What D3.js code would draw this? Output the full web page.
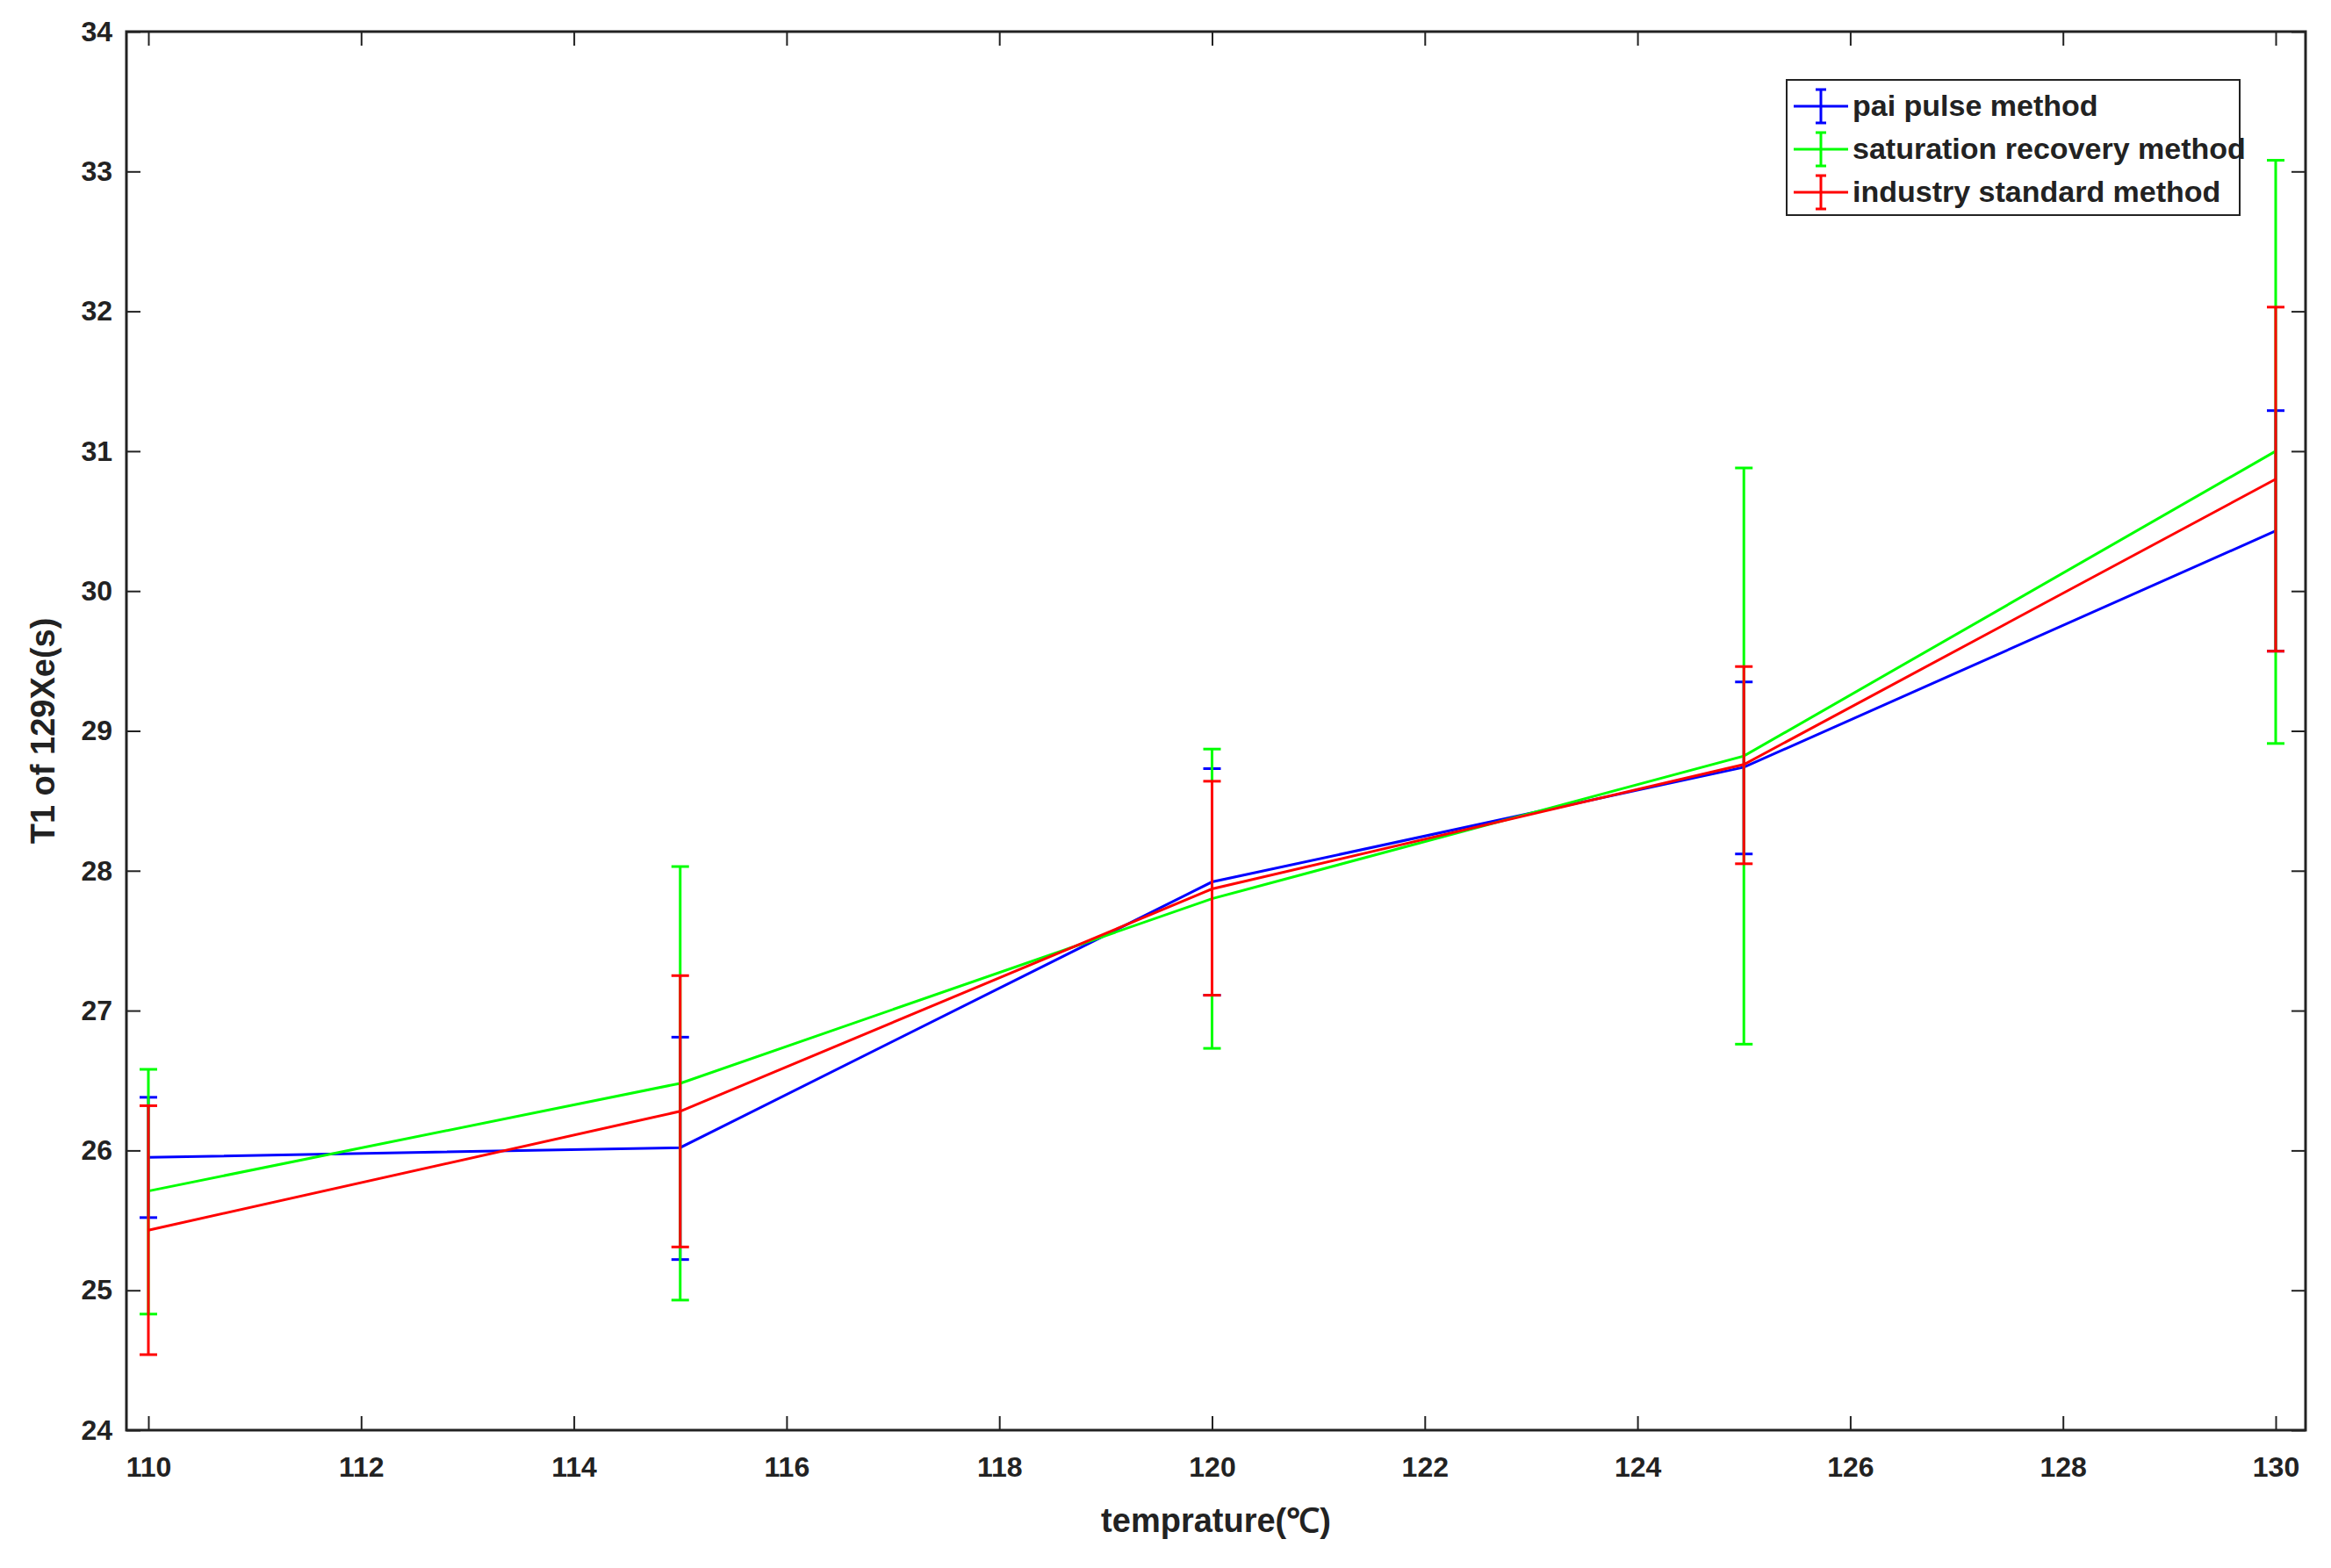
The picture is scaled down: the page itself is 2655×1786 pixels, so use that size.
<!DOCTYPE html>
<html><head><meta charset="utf-8">
<script src="https://cdn.jsdelivr.net/npm/d3@7"></script>
<style>body{margin:0;background:#fff}text{font-family:"Liberation Sans Narrow","Liberation Sans",Arial,sans-serif;font-weight:bold;fill:#222}</style>
</head><body><svg id="c" width="2655" height="1786"></svg>
<script>
const temps = [110, 115, 120, 125, 130];
const paiMean = [25.95, 26.02, 27.92, 28.74, 30.43];
const paiLo = [25.52, 25.22, 27.11, 28.12, 29.57];
const paiHi = [26.38, 26.81, 28.73, 29.35, 31.29];
const satMean = [25.71, 26.48, 27.8, 28.82, 31.0];
const satLo = [24.83, 24.93, 26.73, 26.76, 28.91];
const satHi = [26.58, 28.03, 28.87, 30.88, 33.08];
const indMean = [25.43, 26.28, 27.87, 28.76, 30.8];
const indLo = [24.54, 25.31, 27.11, 28.05, 29.57];
const indHi = [26.32, 27.25, 28.64, 29.46, 32.03];
const xTicks = d3.range(110, 131, 2);
const yTicks = d3.range(24, 35, 1);

const series = [
  {name: "pai pulse method", color: "#0000ff", m: paiMean, lo: paiLo, hi: paiHi},
  {name: "saturation recovery method", color: "#00ff00", m: satMean, lo: satLo, hi: satHi},
  {name: "industry standard method", color: "#ff0000", m: indMean, lo: indLo, hi: indHi}
];

const L = 144, R = 2626, T = 36, B = 1629;
const svg = d3.select("#c");
const x = d3.scaleLinear().domain([109.8, 130.6]).range([L, R]);
const y = d3.scaleLinear().domain([24, 34]).range([B, T]);
// place 110 and 130 exactly
x.domain([110 - (169 - L) / ((2592 - 169) / 20), 130 + (R - 2592) / ((2592 - 169) / 20)]);

const tk = 16;
const gx = svg.append("g").attr("transform", `translate(0,${B})`)
  .call(d3.axisBottom(x).tickValues(xTicks).tickSize(-tk).tickPadding(30).tickSizeOuter(0));
const gy = svg.append("g").attr("transform", `translate(${L},0)`)
  .call(d3.axisLeft(y).tickValues(yTicks).tickSize(-tk).tickPadding(16).tickSizeOuter(0));
svg.append("g").attr("transform", `translate(0,${T})`)
  .call(d3.axisTop(x).tickValues(xTicks).tickSize(-tk).tickFormat("").tickSizeOuter(0));
svg.append("g").attr("transform", `translate(${R},0)`)
  .call(d3.axisRight(y).tickValues(yTicks).tickSize(-tk).tickFormat("").tickSizeOuter(0));
svg.selectAll(".domain").remove();
svg.selectAll(".tick line").attr("stroke", "#222").attr("stroke-width", 2);
svg.selectAll(".tick text").attr("font-size", 32).attr("fill", "#222");
svg.append("rect").attr("x", L).attr("y", T).attr("width", R - L).attr("height", B - T)
  .attr("fill", "none").attr("stroke", "#222").attr("stroke-width", 3);

svg.append("text").attr("x", (L + R) / 2).attr("y", 1745).attr("text-anchor", "middle")
  .attr("font-size", 38).text("temprature(℃)");
svg.append("text").attr("transform", `translate(62,${(T + B) / 2}) rotate(-90)`)
  .attr("text-anchor", "middle").attr("font-size", 38).text("T1 of 129Xe(s)");

const line = d3.line().x(d => x(d[0])).y(d => y(d[1]));
const cap = 10;
series.forEach(s => {
  const g = svg.append("g");
  temps.forEach((t, i) => {
    const cx = x(t);
    g.append("line").attr("x1", cx).attr("x2", cx).attr("y1", y(s.lo[i])).attr("y2", y(s.hi[i]))
      .attr("stroke", s.color).attr("stroke-width", 3);
    [s.lo[i], s.hi[i]].forEach(v => g.append("line").attr("x1", cx - cap).attr("x2", cx + cap)
      .attr("y1", y(v)).attr("y2", y(v)).attr("stroke", s.color).attr("stroke-width", 3));
  });
  g.append("path").datum(temps.map((t, i) => [t, s.m[i]])).attr("d", line)
    .attr("fill", "none").attr("stroke", s.color).attr("stroke-width", 3);
});

// legend
const lx = 2035, ly = 91, lw = 516, lh = 154;
svg.append("rect").attr("x", lx).attr("y", ly).attr("width", lw).attr("height", lh)
  .attr("fill", "#fff").attr("stroke", "#222").attr("stroke-width", 2);
series.forEach((s, i) => {
  const yy = ly + 30 + i * 49;
  const g = svg.append("g");
  g.append("line").attr("x1", lx + 8).attr("x2", lx + 70).attr("y1", yy).attr("y2", yy)
    .attr("stroke", s.color).attr("stroke-width", 3);
  g.append("line").attr("x1", lx + 39).attr("x2", lx + 39).attr("y1", yy - 19).attr("y2", yy + 19)
    .attr("stroke", s.color).attr("stroke-width", 3);
  [yy - 19, yy + 19].forEach(v => g.append("line").attr("x1", lx + 33).attr("x2", lx + 45)
    .attr("y1", v).attr("y2", v).attr("stroke", s.color).attr("stroke-width", 3));
  g.append("text").attr("x", lx + 75).attr("y", yy + 11).attr("font-size", 34).attr("fill", "#111").text(s.name);
});
</script></body></html>
